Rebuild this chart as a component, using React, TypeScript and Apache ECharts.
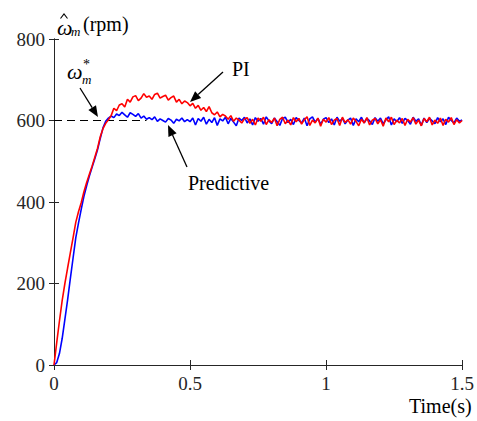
import React, { useEffect, useRef } from "react";
import * as echarts from "echarts";

const STEP = 0.01;

const piValues = [
  0, 55, 108, 158, 200, 238, 275, 312, 350, 376,
  398, 425, 448, 468, 488, 510, 532, 560, 580, 593,
  602, 612, 630, 624, 638, 641, 633, 652, 645, 658,
  661, 649, 655, 666, 657, 660, 652, 664, 667, 655,
  659, 662, 650, 656, 660, 645, 652, 641, 648, 644,
  636, 642, 630, 637, 625, 632, 622, 634, 619, 614,
  621, 609, 615, 611, 603, 612, 598, 606, 601, 594,
  604, 607, 593, 603, 589, 606, 598, 608, 590, 602,
  595, 606, 587, 603, 608, 592, 601, 589, 607, 597,
  605, 591, 602, 609, 588, 601, 594, 606, 586, 603,
  596, 607, 590, 601, 605, 588, 608, 595, 602, 591,
  606, 598, 587, 603, 594, 607, 589, 601, 605, 592,
  602, 586, 606, 597, 608, 590, 601, 594, 605, 588,
  603, 596, 607, 591, 601, 587, 605, 597, 608, 589,
  601, 593, 606, 588, 603, 596, 607, 590, 602, 594,
  600,
];

const predictiveValues = [
  0, 6, 28, 65, 112, 160, 212, 262, 312, 348,
  382, 414, 440, 464, 485, 506, 528, 556, 582, 598,
  606, 611, 607, 616, 612, 620, 614, 608, 619, 615,
  610, 617, 606, 611, 603, 607, 602, 609, 598, 604,
  600, 596, 605, 601, 593, 603, 599, 606, 597, 602,
  597, 606, 589, 605, 598, 608, 591, 603, 595, 607,
  588, 604, 599, 608, 592, 605, 596, 587, 606, 600,
  608, 594, 604, 589, 607, 598, 605, 591, 609, 599,
  592, 606, 597, 588, 605, 608, 595, 603, 590, 607,
  600, 594, 606, 587, 604, 609, 596, 605, 591, 603,
  607, 595, 604, 589, 608, 598, 605, 592, 601, 606,
  588, 604, 597, 608, 594, 605, 599, 590, 607, 598,
  606, 592, 602, 609, 589, 604, 597, 607, 593, 605,
  600, 591, 608, 598, 604, 588, 606, 595, 605, 599,
  592, 607, 597, 604, 590, 608, 600, 594, 606, 598,
  601,
];

const referenceLine = [
  [0, 600],
  [0.34, 600],
];

const xTicks = [0, 0.5, 1, 1.5];
const yTicks = [0, 200, 400, 600, 800];

const FONT = "Liberation Serif";
const AXIS_COLOR = "#262626";

function toPairs(values: number[]) {
  return values.map((v, i) => [Number((i * STEP).toFixed(2)), v]);
}

function arrow(tail: [number, number], tip: [number, number]) {
  const dx = tip[0] - tail[0];
  const dy = tip[1] - tail[1];
  const len = Math.sqrt(dx * dx + dy * dy);
  const ux = dx / len;
  const uy = dy / len;
  const headLen = 11;
  const headW = 4.5;
  const bx = tip[0] - ux * headLen;
  const by = tip[1] - uy * headLen;
  const px = -uy;
  const py = ux;
  return [
    {
      type: "line",
      shape: { x1: tail[0], y1: tail[1], x2: bx, y2: by },
      style: { stroke: "#000", lineWidth: 1.3 },
      z: 100,
    },
    {
      type: "polygon",
      shape: {
        points: [
          [tip[0], tip[1]],
          [bx + px * headW, by + py * headW],
          [bx - px * headW, by - py * headW],
        ],
      },
      style: { fill: "#000" },
      z: 100,
    },
  ];
}

function txt(
  x: number,
  y: number,
  text: string,
  size: number,
  italic = false,
  align = "left"
) {
  return {
    type: "text",
    x,
    y,
    z: 100,
    style: {
      text,
      fill: "#000",
      fontFamily: FONT,
      fontSize: size,
      fontStyle: italic ? "italic" : "normal",
      textAlign: align,
      textVerticalAlign: "middle",
    },
  };
}

export default function App() {
  const ref = useRef<HTMLDivElement>(null);

  useEffect(() => {
    if (!ref.current) return;
    const chart = echarts.init(ref.current, undefined, { renderer: "svg" });

    const axisCommon = {
      type: "value",
      axisLine: { show: true, lineStyle: { color: AXIS_COLOR, width: 1 } },
      axisTick: {
        show: true,
        inside: true,
        length: 5,
        lineStyle: { color: AXIS_COLOR, width: 1 },
      },
      splitLine: { show: false },
    };

    chart.setOption({
      animation: false,
      backgroundColor: "#fff",
      textStyle: { fontFamily: FONT },
      grid: { left: 54, right: 12, top: 39, bottom: 56, containLabel: false },
      xAxis: [
        {
          ...axisCommon,
          position: "bottom",
          min: xTicks[0],
          max: xTicks[xTicks.length - 1],
          interval: 0.5,
          axisLabel: {
            show: true,
            color: AXIS_COLOR,
            fontFamily: FONT,
            fontSize: 19,
            margin: 9,
            formatter: (v: number) => String(v),
          },
        },
        {
          ...axisCommon,
          position: "top",
          min: xTicks[0],
          max: xTicks[xTicks.length - 1],
          interval: 0.5,
          axisLabel: { show: false },
        },
      ],
      yAxis: [
        {
          ...axisCommon,
          position: "left",
          min: yTicks[0],
          max: yTicks[yTicks.length - 1],
          interval: 200,
          axisLabel: {
            show: true,
            color: AXIS_COLOR,
            fontFamily: FONT,
            fontSize: 19,
            margin: 9,
          },
        },
        {
          ...axisCommon,
          position: "right",
          min: yTicks[0],
          max: yTicks[yTicks.length - 1],
          interval: 200,
          axisLabel: { show: false },
        },
      ],
      series: [
        {
          type: "line",
          name: "ref",
          data: referenceLine,
          showSymbol: false,
          symbol: "none",
          lineStyle: { color: "#000", width: 1, type: [8, 5] },
          z: 1,
        },
        {
          type: "line",
          name: "Predictive",
          data: toPairs(predictiveValues),
          showSymbol: false,
          symbol: "none",
          lineStyle: { color: "#0000ff", width: 1.6 },
          z: 2,
        },
        {
          type: "line",
          name: "PI",
          data: toPairs(piValues),
          showSymbol: false,
          symbol: "none",
          lineStyle: { color: "#ff0000", width: 1.6 },
          z: 3,
        },
      ],
      graphic: [
        // y-axis title: omega-hat_m (rpm)
        txt(57, 27, "ω", 22, true),
        {
          type: "polyline",
          shape: {
            points: [
              [60.5, 18.5],
              [64, 14],
              [67.5, 18.5],
            ],
          },
          style: { stroke: "#000", lineWidth: 1.1, fill: "none" },
          z: 100,
        },
        txt(71, 31, "m", 13, true),
        txt(83, 24, "(rpm)", 20),
        // omega*_m label
        txt(67, 71, "ω", 22, true),
        txt(83, 64, "*", 14),
        txt(82, 79, "m", 13, true),
        ...arrow([80, 88], [98, 117]),
        // PI
        txt(232, 69, "PI", 20),
        ...arrow([223, 72], [190, 102]),
        // Predictive
        txt(188, 183, "Predictive", 20),
        ...arrow([187, 167], [168, 125]),
        // x-axis name
        txt(409, 406, "Time(s)", 20),
      ],
    });

    return () => chart.dispose();
  }, []);

  return (
    <div
      ref={ref}
      style={{ position: "fixed", left: 0, top: 0, width: 477, height: 421 }}
    />
  );
}
